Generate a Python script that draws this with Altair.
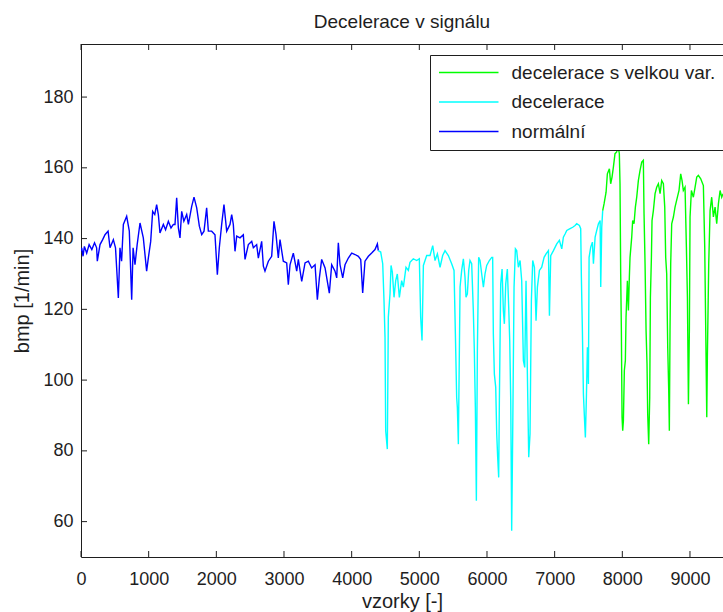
import altair as alt
import pandas as pd

# Heart-rate trace (bpm) split into three labelled segments
normal_x = [0, 10, 30, 50, 84, 120, 160, 200, 231, 241, 281, 320, 355, 400, 429, 478, 510, 552, 576, 600,
            626, 675, 714, 749, 770, 798, 830, 872, 921, 970, 995, 1030, 1059, 1090, 1118, 1143, 1167, 1217, 1250, 1291,
            1330, 1365, 1389, 1414, 1439, 1463, 1488, 1520, 1562, 1587, 1636, 1670, 1710, 1749, 1784, 1818, 1857, 1882, 1931, 1980,
            2015, 2044, 2079, 2113, 2153, 2202, 2227, 2251, 2276, 2301, 2350, 2399, 2424, 2473, 2523, 2547, 2596, 2621, 2670, 2695,
            2719, 2769, 2818, 2852, 2882, 2916, 2941, 2990, 3040, 3064, 3089, 3138, 3188, 3212, 3262, 3311, 3360, 3409, 3459, 3493,
            3523, 3557, 3607, 3670, 3705, 3754, 3779, 3803, 3828, 3868, 3902, 3951, 4001, 4050, 4099, 4134, 4163, 4197, 4247, 4296,
            4345, 4380, 4394]
normal_y = [136.5, 137.4, 135.0, 137.8, 135.9, 138.3, 136.9, 138.8, 137.4, 133.6, 138.3, 139.7, 141.1, 142.1, 137.4, 139.7, 137.4, 123.2, 137.4, 133.6,
            144.0, 146.3, 142.1, 122.7, 137.4, 132.6, 138.3, 144.4, 140.2, 130.8, 134.5, 139.2, 147.7, 146.8, 149.6, 146.8, 141.6, 144.0, 142.5, 144.9,
            143.0, 144.0, 144.0, 151.5, 143.0, 140.2, 147.7, 144.9, 146.8, 144.0, 149.1, 151.7, 148.7, 143.5, 141.1, 142.1, 148.7, 142.1, 142.1, 141.1,
            129.8, 137.4, 144.0, 149.6, 142.1, 144.0, 146.8, 144.0, 136.4, 140.7, 140.2, 141.1, 134.1, 138.3, 139.2, 137.4, 138.3, 134.5, 139.2, 132.2,
            130.8, 133.6, 135.0, 144.9, 141.1, 134.5, 139.7, 133.6, 133.1, 127.0, 132.6, 135.9, 130.8, 134.1, 127.9, 133.1, 133.6, 131.7, 132.6, 122.7,
            128.9, 134.1, 131.7, 124.6, 132.6, 130.8, 128.9, 138.8, 132.6, 128.9, 132.6, 134.5, 135.9, 135.5, 135.0, 134.1, 124.6, 133.6, 135.0, 135.9,
            136.9, 138.5, 136.6]

decel_x = [4394, 4429, 4459, 4478, 4493, 4503, 4527, 4542, 4567, 4582,
           4601, 4626, 4651, 4675, 4705, 4739, 4764, 4803, 4838, 4862,
           4911, 4961, 5000, 5020, 5040, 5060, 5109, 5158, 5198, 5232,
           5267, 5306, 5345, 5380, 5429, 5478, 5513, 5533, 5552, 5562,
           5577, 5602, 5626, 5651, 5675, 5690, 5710, 5730, 5749, 5774,
           5798, 5813, 5828, 5843, 5858, 5877, 5897, 5922, 5947, 5971,
           5996, 6035, 6070, 6084, 6094, 6109, 6129, 6144, 6158, 6173,
           6183, 6203, 6223, 6242, 6257, 6277, 6301, 6321, 6336, 6351,
           6365, 6380, 6400, 6420, 6439, 6464, 6489, 6513, 6538, 6558,
           6577, 6597, 6617, 6636, 6656, 6676, 6701, 6725, 6745, 6775,
           6809, 6844, 6873, 6908, 6923, 6942, 6982, 7031, 7070, 7105,
           7129, 7154, 7179, 7228, 7267, 7302, 7326, 7366, 7385, 7395,
           7410, 7425, 7440, 7454, 7469, 7484, 7499, 7509, 7533, 7558,
           7573, 7598, 7622, 7647, 7672, 7681, 7696, 7710]
decel_y = [136.6, 136.2, 132.9, 122.5, 112.1, 85.7, 80.5, 117.8, 124.4, 132.4,
           130.5, 123.4, 128.1, 130.0, 123.4, 128.1, 126.3, 131.9, 131.0, 133.3,
           134.3, 133.8, 134.3, 117.8, 111.2, 132.4, 135.2, 135.2, 138.0, 133.8,
           135.7, 131.9, 135.2, 136.6, 135.2, 132.9, 131.0, 113.0, 95.1, 92.3,
           81.9, 126.3, 131.0, 134.3, 129.1, 123.4, 124.4, 131.0, 133.8, 132.9,
           119.6, 108.3, 92.3, 65.9, 108.3, 134.7, 133.8, 130.0, 126.3, 130.0,
           132.4, 133.8, 134.7, 134.7, 113.0, 101.7, 98.0, 84.8, 78.2, 72.5,
           94.2, 127.2, 131.4, 119.6, 115.9, 127.2, 131.4, 120.6, 111.2, 94.2,
           57.4, 84.8, 126.3, 137.1, 136.6, 131.9, 133.8, 128.1, 105.5, 103.6,
           128.1, 101.7, 78.2, 84.8, 122.5, 133.8, 131.9, 116.8, 126.3, 131.0,
           131.9, 134.7, 135.7, 136.6, 118.2, 135.2, 136.6, 138.5, 139.5, 137.1,
           140.4, 141.3, 142.3, 142.8, 143.2, 143.7, 144.2, 143.7, 142.8, 129.1,
           114.0, 96.1, 89.5, 83.8, 95.1, 109.3, 98.9, 134.7, 137.6, 139.0,
           132.9, 140.4, 142.3, 144.2, 145.1, 126.3, 143.2, 147.9]

var_x = [7710, 7730, 7760, 7779, 7809, 7828, 7848, 7868, 7892, 7917,
         7937, 7956, 7966, 7976, 7986, 7996, 8006, 8016, 8030, 8045,
         8055, 8075, 8090, 8104, 8114, 8139, 8153, 8173, 8193, 8213,
         8237, 8262, 8287, 8311, 8321, 8336, 8351, 8365, 8375, 8390,
         8405, 8415, 8430, 8439, 8459, 8484, 8508, 8533, 8558, 8582,
         8607, 8627, 8641, 8656, 8671, 8686, 8695, 8705, 8715, 8730,
         8755, 8779, 8814, 8838, 8863, 8883, 8902, 8927, 8947, 8962,
         8977, 8991, 9001, 9021, 9050, 9075, 9100, 9124, 9159, 9198,
         9218, 9233, 9248, 9257, 9277, 9297, 9321, 9346, 9371, 9395,
         9420, 9445, 9469, 9489]
var_y = [147.9, 149.8, 153.1, 158.3, 159.7, 155.5, 157.4, 160.2, 164.0, 164.5,
         166.3, 164.0, 155.5, 130.0, 114.0, 89.5, 85.7, 88.5, 102.7, 105.5,
         117.8, 128.1, 119.7, 129.1, 134.7, 140.4, 145.1, 144.2, 148.9, 151.7,
         156.4, 159.3, 161.6, 162.1, 147.0, 132.9, 114.0, 104.6, 90.4, 81.9,
         95.1, 123.4, 134.7, 145.1, 147.9, 152.7, 154.5, 155.5, 152.7, 156.4,
         155.5, 148.9, 134.7, 130.0, 109.3, 97.0, 85.7, 114.0, 132.9, 144.2,
         146.1, 148.9, 151.7, 153.6, 158.3, 156.4, 153.6, 154.5, 137.6, 123.4,
         93.2, 114.0, 146.1, 153.6, 151.7, 154.5, 157.4, 157.9, 156.9, 155.0,
         137.6, 114.0, 89.5, 106.5, 132.9, 147.9, 151.7, 146.1, 148.9, 144.2,
         149.8, 153.6, 151.7, 152.7]

series_names = ["decelerace s velkou var.", "decelerace", "normální"]
series_colors = ["#00ff00", "#00ffff", "#0000ff"]
x_ticks = [0, 1000, 2000, 3000, 4000, 5000, 6000, 7000, 8000, 9000]
y_ticks = [60, 80, 100, 120, 140, 160, 180]

W, H = 642, 513
TICK = 6
FONT = "Liberation Sans"
INK = "#1e1e1e"

# legend line sample: a horizontal path 7 units long inside a 2-unit symbol box
SYM = 17
LEG_PATH = "M-3.5,0H3.5"
SYM_SHIFT = 1.25 * SYM          # moves the sample's left end to the entry's left edge
LINE_LEN = 3.5 * SYM            # drawn length of the sample
LABEL_GAP = 12

frames = []
for name, xs, ys in [(series_names[2], normal_x, normal_y),
                     (series_names[1], decel_x, decel_y),
                     (series_names[0], var_x, var_y)]:
    assert len(xs) == len(ys)
    frames.append(pd.DataFrame({"sample": xs, "bpm": ys, "series": name}))
signal = pd.concat(frames, ignore_index=True)
signal["idx"] = range(len(signal))

x_scale = alt.Scale(domain=[0, 9488], nice=False, zero=False)
y_scale = alt.Scale(domain=[50, 195], nice=False, zero=False)

lines = alt.Chart(signal).mark_line(strokeWidth=1.4, clip=True).encode(
    x=alt.X("sample:Q", scale=x_scale,
            axis=alt.Axis(values=x_ticks, tickSize=0, labelPadding=13, grid=False,
                          labelFlush=False, labelOverlap=False,
                          title="vzorky [-]", titleY=50, titleBaseline="alphabetic",
                          labelFontSize=18, titleFontSize=20, format="d")),
    y=alt.Y("bpm:Q", scale=y_scale,
            axis=alt.Axis(values=y_ticks, tickSize=0, labelPadding=8, grid=False,
                          labelFlush=False, labelOverlap=False,
                          title="bmp [1/min]", titleX=-59, titleY=H / 2,
                          titleBaseline="middle", titleAngle=-90,
                          labelFontSize=18, titleFontSize=20)),
    color=alt.Color("series:N",
                    scale=alt.Scale(domain=series_names, range=series_colors),
                    legend=alt.Legend(orient="none", legendX=349, legendY=11, title=None,
                                      symbolType=LEG_PATH, symbolSize=SYM * SYM,
                                      symbolOffset=SYM_SHIFT,
                                      symbolStrokeWidth=1.6, labelFontSize=19,
                                      labelFont=FONT, labelColor=INK,
                                      labelOffset=LINE_LEN + LABEL_GAP - SYM_SHIFT - SYM,
                                      labelLimit=400,
                                      padding=8, rowPadding=9.5,
                                      strokeColor=INK, fillColor="white")),
    detail="series:N",
    order="idx:Q",
)

xt = pd.DataFrame({"sample": x_ticks})
yt = pd.DataFrame({"bpm": y_ticks})

bottom_ticks = alt.Chart(xt).mark_rule(color=INK, strokeWidth=1).encode(
    x="sample:Q", y=alt.value(H), y2=alt.value(H - TICK))
top_ticks = alt.Chart(xt).mark_rule(color=INK, strokeWidth=1).encode(
    x="sample:Q", y=alt.value(0), y2=alt.value(TICK))
left_ticks = alt.Chart(yt).mark_rule(color=INK, strokeWidth=1).encode(
    y="bpm:Q", x=alt.value(0), x2=alt.value(TICK))
top_edge = alt.Chart(pd.DataFrame({"e": [0]})).mark_rule(color=INK, strokeWidth=1).encode(
    x=alt.value(0), x2=alt.value(W), y=alt.value(0.5))

chart = alt.layer(lines, bottom_ticks, top_ticks, left_ticks, top_edge).properties(
    width=W, height=H,
    title=alt.TitleParams("Decelerace v signálu", fontSize=19, font=FONT,
                          fontWeight="normal", color=INK, anchor="middle",
                          baseline="alphabetic", offset=18, dy=21),
    autosize=alt.AutoSizeParams(type="none"),
    padding={"left": 81, "top": 44, "right": 0, "bottom": 55},
    background="white",
).configure_view(stroke=None).configure_axis(
    labelFont=FONT, titleFont=FONT, labelColor=INK, titleColor=INK,
    titleFontWeight="normal", domainColor=INK, domainWidth=1,
)

chart.save("out.html", embed_options={"renderer": "svg", "actions": False})
